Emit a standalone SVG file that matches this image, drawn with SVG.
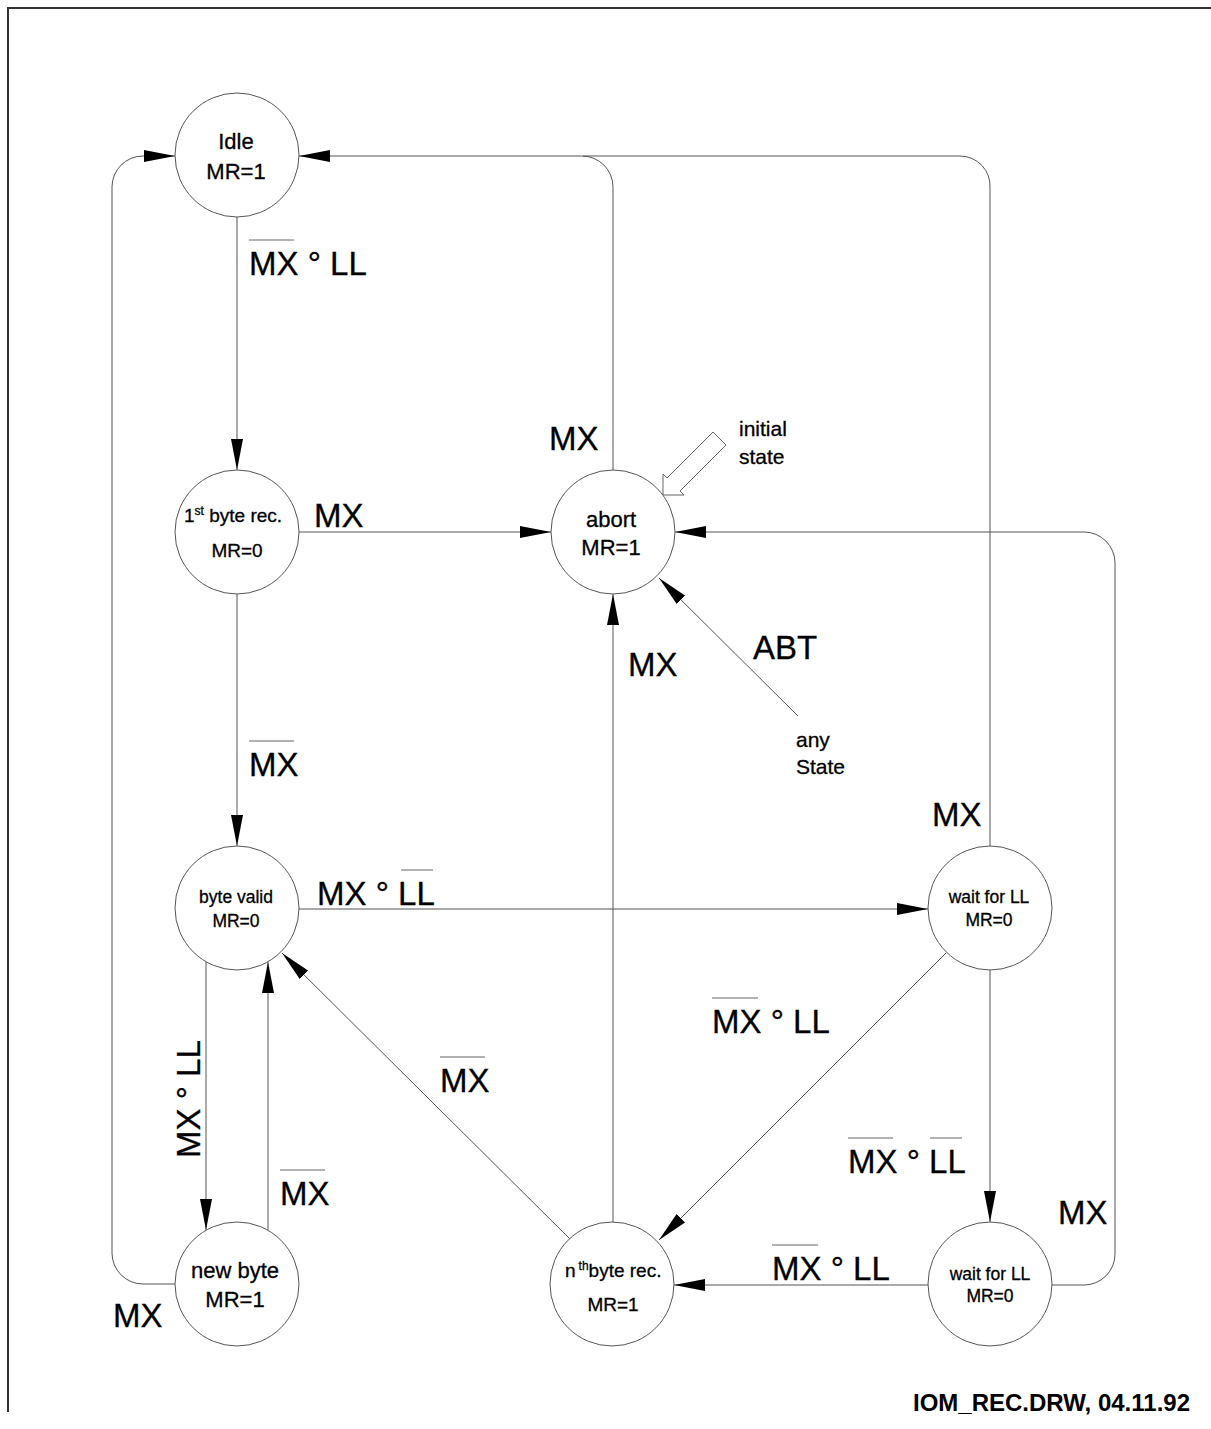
<svg xmlns="http://www.w3.org/2000/svg" width="1211" height="1429" viewBox="0 0 1211 1429">
<style>
.node circle{fill:#fff;stroke:#555;stroke-width:1}
.nt,.ns,.nr,.lbl,.txt{font-family:"Liberation Sans",Arial,sans-serif;fill:#000;stroke:#000;stroke-width:0.3}
.nt{font-size:22px;text-anchor:middle}
.ns{font-size:17.5px;text-anchor:middle}
.nr{font-size:19px}
.conn path{fill:none;stroke:#555;stroke-width:1;marker-end:url(#ah)}
.conn path.plain{marker-end:none}
.lbl{font-size:33px}
.txt{font-size:21px}
.ov{stroke:#666;stroke-width:1}
.foot{font-family:"Liberation Sans",Arial,sans-serif;font-size:24px;font-weight:bold;fill:#000}
</style>
<defs>
<marker id="ah" viewBox="0 0 31 12" refX="31" refY="6" markerWidth="31" markerHeight="12" markerUnits="userSpaceOnUse" orient="auto">
<path d="M0,0 L31,6 L0,12 z" fill="#000"/>
</marker>
</defs>
<rect width="1211" height="1429" fill="#fff"/>
<path d="M8,1412 V8 H1211" fill="none" stroke="#333" stroke-width="2"/>

<g id="connectors" class="conn">
<path d="M237,217 V470"/>
<path d="M175,1284 H143 A31,31 0 0 1 112,1253 V187 A31,31 0 0 1 143,156 H175"/>
<path d="M613,470 V187 A31,31 0 0 0 582,156 H299"/>
<path class="plain" d="M990,846 V188 A30,30 0 0 0 960,156 H583"/>
<path d="M299,532 H551"/>
<path d="M237,594 V846"/>
<path d="M299,909 H928"/>
<path d="M206,962 V1230"/>
<path d="M268,1230 V962"/>
<path d="M570,1239 L282,953"/>
<path d="M613,1222 V594"/>
<path d="M798,716 L659,578"/>
<path d="M946,953 L659,1240"/>
<path d="M990,970 V1222"/>
<path d="M928,1285 H674"/>
<path d="M1052,1285 H1084 A31,31 0 0 0 1115,1254 V563 A31,31 0 0 0 1084,532 H675"/>
</g>

<g id="labels">
<text class="lbl" x="249" y="275">MX ° LL</text>
<line class="ov" x1="249" y1="240" x2="294" y2="240"/>
<text class="lbl" x="113" y="1327">MX</text>
<text class="lbl" x="549" y="450">MX</text>
<text class="lbl" x="932" y="826">MX</text>
<text class="lbl" x="314" y="527">MX</text>
<text class="lbl" x="249" y="776">MX</text>
<line class="ov" x1="249" y1="741" x2="294" y2="741"/>
<text class="lbl" x="317" y="905">MX ° LL</text>
<line class="ov" x1="401" y1="870" x2="433" y2="870"/>
<text class="lbl" transform="translate(200,1158) rotate(-90)">MX ° LL</text>
<text class="lbl" x="280" y="1205">MX</text>
<line class="ov" x1="280" y1="1170" x2="325" y2="1170"/>
<text class="lbl" x="440" y="1092">MX</text>
<line class="ov" x1="440" y1="1057" x2="485" y2="1057"/>
<text class="lbl" x="628" y="676">MX</text>
<text class="lbl" x="753" y="659">ABT</text>
<text class="lbl" x="712" y="1033">MX ° LL</text>
<line class="ov" x1="712" y1="998" x2="758" y2="998"/>
<text class="lbl" x="848" y="1173">MX ° LL</text>
<line class="ov" x1="848" y1="1138" x2="893" y2="1138"/>
<line class="ov" x1="930" y1="1138" x2="962" y2="1138"/>
<text class="lbl" x="772" y="1280">MX ° LL</text>
<line class="ov" x1="772" y1="1245" x2="818" y2="1245"/>
<text class="lbl" x="1058" y="1224">MX</text>
</g>

<g id="initial-state">
<polygon points="663,495 663,474 667,478 713,432 726,445 680,491 684,495" fill="#fff" stroke="#666" stroke-width="1"/>
<text class="txt" x="739" y="436">initial</text>
<text class="txt" x="739" y="464">state</text>
</g>

<g id="any-state">
<text class="txt" x="796" y="747">any</text>
<text class="txt" x="796" y="774">State</text>
</g>

<g id="idle" class="node">
<circle cx="237" cy="155" r="62"/>
<text class="nt" x="236" y="149">Idle</text>
<text class="nt" x="236" y="179">MR=1</text>
</g>
<g id="first-byte" class="node">
<circle cx="237" cy="532" r="62"/>
<text class="nr" x="184" y="522">1<tspan font-size="12" dy="-7">st</tspan><tspan dy="7"> byte rec.</tspan></text>
<text class="nr" x="237" y="557" text-anchor="middle">MR=0</text>
</g>
<g id="abort" class="node">
<circle cx="613" cy="532" r="62"/>
<text class="nt" x="611" y="527">abort</text>
<text class="nt" x="611" y="555">MR=1</text>
</g>
<g id="byte-valid" class="node">
<circle cx="237" cy="908" r="62"/>
<text class="ns" x="236" y="903">byte valid</text>
<text class="ns" x="236" y="927">MR=0</text>
</g>
<g id="wait-ll-1" class="node">
<circle cx="990" cy="908" r="62"/>
<text class="ns" x="989" y="903">wait for LL</text>
<text class="ns" x="989" y="926">MR=0</text>
</g>
<g id="new-byte" class="node">
<circle cx="237" cy="1284" r="62"/>
<text class="nt" x="235" y="1278">new byte</text>
<text class="nt" x="235" y="1307">MR=1</text>
</g>
<g id="nth-byte" class="node">
<circle cx="612" cy="1284" r="62"/>
<text class="nr" x="565" y="1277">n<tspan font-size="12" dx="3" dy="-7">th</tspan><tspan dy="7">byte rec.</tspan></text>
<text class="nr" x="613" y="1311" text-anchor="middle">MR=1</text>
</g>
<g id="wait-ll-2" class="node">
<circle cx="990" cy="1284" r="62"/>
<text class="ns" x="990" y="1280">wait for LL</text>
<text class="ns" x="990" y="1302">MR=0</text>
</g>

<text class="foot" x="913" y="1411">IOM_REC.DRW, 04.11.92</text>
</svg>
